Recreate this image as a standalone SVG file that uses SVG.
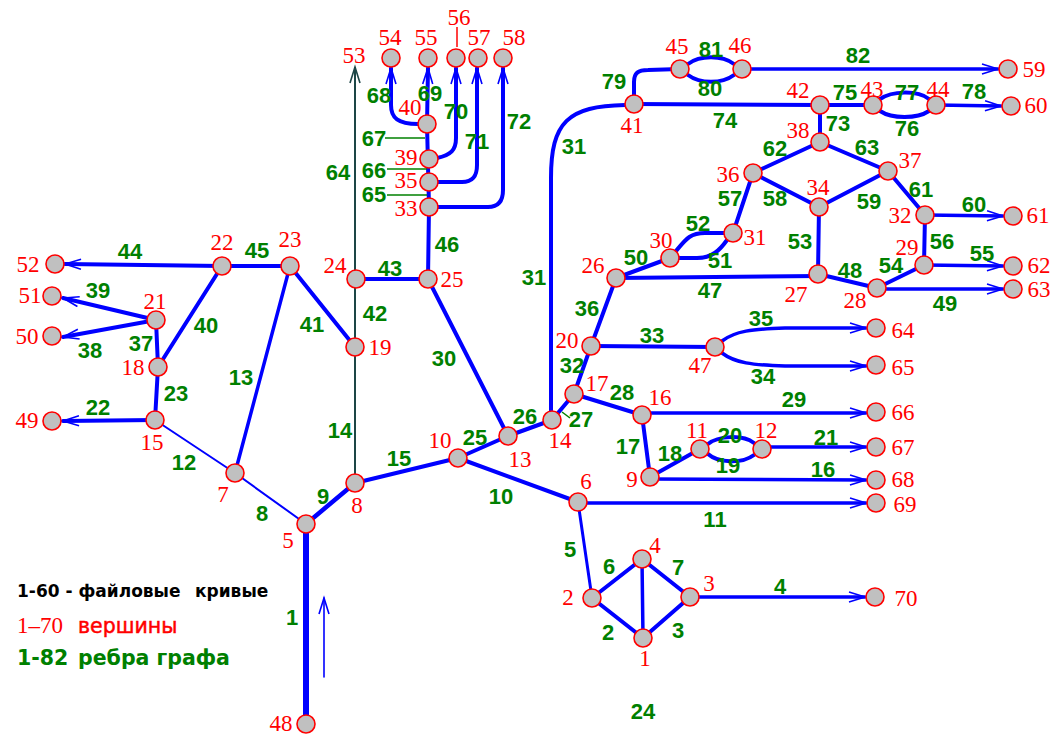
<svg xmlns="http://www.w3.org/2000/svg" width="1053" height="735" viewBox="0 0 1053 735">
<style>
.e{fill:none;stroke:#0000ff;stroke-width:4;stroke-linecap:round;stroke-linejoin:round}
.t{stroke-width:2}
.m{stroke-width:3}
.a{marker-end:url(#ah)}
.ld{fill:none;stroke:#008000;stroke-width:1.5}
.n{fill:#c0c0c0;stroke:#ff0000;stroke-width:1.6}
.vl{font-family:"Liberation Serif",serif;font-size:23px;fill:#ff0000;text-anchor:middle}
.el{font-family:"Liberation Sans",Arial,sans-serif;font-size:22px;font-weight:bold;fill:#008000;text-anchor:middle}
</style>
<defs>
<marker id="ah" markerUnits="userSpaceOnUse" viewBox="0 0 20 12" markerWidth="20" markerHeight="12" refX="17" refY="6" orient="auto"><path d="M1,1 L17,6 L1,11" fill="none" stroke="#0000ff" stroke-width="1.6"/></marker>
<marker id="ahd" markerUnits="userSpaceOnUse" viewBox="0 0 20 12" markerWidth="20" markerHeight="12" refX="17" refY="6" orient="auto"><path d="M1,1 L17,6 L1,11" fill="none" stroke="#1d4646" stroke-width="1.6"/></marker>
</defs>
<rect width="1053" height="735" fill="#ffffff"/>
<g id="connectors">
<path class="e" style="stroke-width:6" d="M306,724 L306,524"/>
<path class="e" d="M592,598 L643,638"/>
<path class="e" d="M643,638 L690,597"/>
<path class="e a" style="stroke-width:3.5" d="M690,597 L865,597"/>
<path class="e m" d="M578,502 L592,598"/>
<path class="e" d="M592,598 L642,559"/>
<path class="e" d="M642,559 L690,597"/>
<path class="e" style="stroke-width:3.5" d="M642,559 L643,638"/>
<path class="e t" d="M306,524 L235,473"/>
<path class="e" style="stroke-width:4.5" d="M306,524 L355,483"/>
<path class="e" d="M458,458 L578,502"/>
<path class="e a" style="stroke-width:3.5" d="M578,503 L866,503"/>
<path class="e t" d="M155,420 L235,473"/>
<path class="e" style="stroke-width:3.5" d="M290,266 L235,473"/>
<path fill="none" stroke="#1d4646" stroke-width="2" marker-end="url(#ahd)" d="M355,483 L355,67"/>
<path class="e" d="M355,483 L458,458"/>
<path class="e a" style="stroke-width:3.5" d="M650,479 L866,480"/>
<path class="e" d="M642,415 L650,477"/>
<path class="e" d="M650,477 L700,449"/>
<path class="e" d="M708,454 C718,463 742,464 754,455"/>
<path class="e" d="M708,444 C718,436 742,434 754,443"/>
<path class="e a" style="stroke-width:3.5" d="M762,447 L866,447"/>
<path class="e a" d="M155,420 L63,421"/>
<path class="e" d="M158,367 L155,420"/>
<path class="e" d="M458,458 L508,436"/>
<path class="e" d="M508,436 L552,420"/>
<path class="e" d="M552,420 L574,394"/>
<path class="e" d="M574,394 L642,415"/>
<path class="e a" style="stroke-width:3.5" d="M642,413 L866,413"/>
<path class="e" d="M428,279 L508,436"/>
<path class="e" d="M551,420 L551,178 C551,122 568,106 625,105"/>
<path class="e" d="M591,346 L574,394"/>
<path class="e" d="M591,346 L715,347"/>
<path class="e a" style="stroke-width:3.5" d="M722,353 C735,363 752,365 785,366 L866,366"/>
<path class="e a" style="stroke-width:3.5" d="M722,341 C735,331 752,329 785,328 L866,328"/>
<path class="e" d="M616,278 L591,346"/>
<path class="e" d="M156,320 L158,367"/>
<path class="e a" d="M156,320 L63,337"/>
<path class="e a" d="M156,320 L63,298"/>
<path class="e" d="M222,266 L158,367"/>
<path class="e" d="M290,266 L355,347"/>
<path class="e" d="M356,279 L428,279"/>
<path class="e a" d="M222,266 L65,264"/>
<path class="e" d="M222,266 L290,266"/>
<path class="e" d="M428,279 L429,207"/>
<path class="e" d="M616,278 L818,276"/>
<path class="e" d="M818,274 L877,288"/>
<path class="e a" style="stroke-width:3.5" d="M877,289 L1003,289"/>
<path class="e" d="M616,278 L670,258"/>
<path class="e" d="M679,258 L697,258 C712,258 720,250 727,240"/>
<path class="e" d="M676,251 C686,239 690,233 705,233 L724,233"/>
<path class="e" d="M819,207 L818,274"/>
<path class="e" d="M877,288 L924,265"/>
<path class="e a" style="stroke-width:3.5" d="M924,265 L1003,266"/>
<path class="e" d="M924,265 L925,215"/>
<path class="e" d="M733,233 L753,173"/>
<path class="e" d="M753,173 L819,207"/>
<path class="e" d="M819,207 L888,171"/>
<path class="e a" style="stroke-width:3.5" d="M925,215 L1003,216"/>
<path class="e" d="M888,171 L925,215"/>
<path class="e" d="M753,173 L820,142"/>
<path class="e" d="M820,142 L888,171"/>
<path class="e" d="M429,207 L427,124"/>
<path class="e a" d="M418,124 C398,124 391,118 391,105 L391,68"/>
<path class="e a" d="M427,124 L428,68"/>
<path class="e a" d="M437,158 C451,155 456,150 456,138 L456,68"/>
<path class="e a" d="M438,182 L462,182 C473,182 477,176 477,165 L477,68"/>
<path class="e a" d="M438,207 L488,207 C499,207 503,200 503,190 L503,68"/>
<path class="e" d="M820,105 L820,142"/>
<path class="e" d="M634,104 L820,105"/>
<path class="e" d="M820,105 L873,105"/>
<path class="e" d="M880,111 C892,119 917,119 929,111"/>
<path class="e" d="M880,99 C892,91 917,90 929,99"/>
<path class="e a" style="stroke-width:3.5" d="M936,105 L1001,106"/>
<path class="e" d="M634,104 L634,82 C634,73 638,70 648,70 L680,69"/>
<path class="e" d="M688,75 C700,84 722,84 734,75"/>
<path class="e" d="M688,64 C700,55 722,55 734,64"/>
<path class="e a" style="stroke-width:3.5" d="M742,69 L998,69"/>
<path class="e a" style="stroke-width:1.6" d="M324,677 L324,598"/>
<path class="ld" d="M387,195 L427,195"/>
<path class="ld" d="M387,169 L427,169"/>
<path class="ld" d="M385,138 L425,138"/>
<path class="ld" d="M562,412 L570,418"/>
<path fill="none" stroke="#ff0000" stroke-width="1.5" d="M457,27 L457,47"/>
</g>
<g id="edge-labels">
<text class="el" x="292" y="625">1</text>
<text class="el" x="608" y="640">2</text>
<text class="el" x="678" y="638">3</text>
<text class="el" x="780" y="594">4</text>
<text class="el" x="570" y="557">5</text>
<text class="el" x="609" y="574">6</text>
<text class="el" x="678" y="575">7</text>
<text class="el" x="262" y="521">8</text>
<text class="el" x="323" y="504">9</text>
<text class="el" x="501" y="504">10</text>
<text class="el" x="715" y="527">11</text>
<text class="el" x="184" y="470">12</text>
<text class="el" x="241" y="385">13</text>
<text class="el" x="340" y="438">14</text>
<text class="el" x="399" y="466">15</text>
<text class="el" x="823" y="477">16</text>
<text class="el" x="628" y="454">17</text>
<text class="el" x="670" y="461">18</text>
<text class="el" x="728" y="473">19</text>
<text class="el" x="730" y="443">20</text>
<text class="el" x="826" y="445">21</text>
<text class="el" x="98" y="415">22</text>
<text class="el" x="176" y="401">23</text>
<text class="el" x="643" y="719">24</text>
<text class="el" x="475" y="445">25</text>
<text class="el" x="525" y="424">26</text>
<text class="el" x="581" y="427">27</text>
<text class="el" x="622" y="400">28</text>
<text class="el" x="794" y="407">29</text>
<text class="el" x="444" y="366">30</text>
<text class="el" x="534" y="285">31</text>
<text class="el" x="574" y="154">31</text>
<text class="el" x="572" y="373">32</text>
<text class="el" x="652" y="343">33</text>
<text class="el" x="763" y="384">34</text>
<text class="el" x="761" y="326">35</text>
<text class="el" x="587" y="316">36</text>
<text class="el" x="141" y="351">37</text>
<text class="el" x="90" y="358">38</text>
<text class="el" x="98" y="298">39</text>
<text class="el" x="206" y="333">40</text>
<text class="el" x="312" y="332">41</text>
<text class="el" x="375" y="321">42</text>
<text class="el" x="390" y="276">43</text>
<text class="el" x="130" y="259">44</text>
<text class="el" x="257" y="258">45</text>
<text class="el" x="447" y="252">46</text>
<text class="el" x="710" y="298">47</text>
<text class="el" x="850" y="278">48</text>
<text class="el" x="945" y="311">49</text>
<text class="el" x="636" y="265">50</text>
<text class="el" x="720" y="268">51</text>
<text class="el" x="698" y="231">52</text>
<text class="el" x="800" y="249">53</text>
<text class="el" x="891" y="273">54</text>
<text class="el" x="982" y="261">55</text>
<text class="el" x="942" y="249">56</text>
<text class="el" x="730" y="206">57</text>
<text class="el" x="775" y="206">58</text>
<text class="el" x="869" y="209">59</text>
<text class="el" x="974" y="212">60</text>
<text class="el" x="921" y="197">61</text>
<text class="el" x="775" y="156">62</text>
<text class="el" x="867" y="155">63</text>
<text class="el" x="338" y="180">64</text>
<text class="el" x="374" y="202">65</text>
<text class="el" x="374" y="178">66</text>
<text class="el" x="374" y="146">67</text>
<text class="el" x="379" y="103">68</text>
<text class="el" x="430" y="101">69</text>
<text class="el" x="456" y="119">70</text>
<text class="el" x="477" y="149">71</text>
<text class="el" x="519" y="129">72</text>
<text class="el" x="838" y="131">73</text>
<text class="el" x="725" y="128">74</text>
<text class="el" x="845" y="100">75</text>
<text class="el" x="907" y="136">76</text>
<text class="el" x="907" y="100">77</text>
<text class="el" x="974" y="99">78</text>
<text class="el" x="614" y="89">79</text>
<text class="el" x="710" y="96">80</text>
<text class="el" x="711" y="57">81</text>
<text class="el" x="858" y="63">82</text>
</g>
<g id="node-1"><circle class="n" cx="643" cy="638" r="9"/><text class="vl" x="645" y="666">1</text></g>
<g id="node-2"><circle class="n" cx="592" cy="598" r="9"/><text class="vl" x="568" y="605">2</text></g>
<g id="node-3"><circle class="n" cx="690" cy="597" r="9"/><text class="vl" x="709" y="591">3</text></g>
<g id="node-4"><circle class="n" cx="642" cy="559" r="9"/><text class="vl" x="655" y="553">4</text></g>
<g id="node-5"><circle class="n" cx="306" cy="524" r="9"/><text class="vl" x="288" y="548">5</text></g>
<g id="node-6"><circle class="n" cx="578" cy="502" r="9"/><text class="vl" x="586" y="489">6</text></g>
<g id="node-7"><circle class="n" cx="235" cy="473" r="9"/><text class="vl" x="223" y="502">7</text></g>
<g id="node-8"><circle class="n" cx="355" cy="483" r="9"/><text class="vl" x="357" y="513">8</text></g>
<g id="node-9"><circle class="n" cx="650" cy="477" r="9"/><text class="vl" x="632" y="487">9</text></g>
<g id="node-10"><circle class="n" cx="458" cy="458" r="9"/><text class="vl" x="440" y="448">10</text></g>
<g id="node-11"><circle class="n" cx="700" cy="449" r="9"/><text class="vl" x="697" y="438">11</text></g>
<g id="node-12"><circle class="n" cx="762" cy="449" r="9"/><text class="vl" x="766" y="438">12</text></g>
<g id="node-13"><circle class="n" cx="508" cy="436" r="9"/><text class="vl" x="520" y="467">13</text></g>
<g id="node-14"><circle class="n" cx="552" cy="420" r="9"/><text class="vl" x="560" y="448">14</text></g>
<g id="node-15"><circle class="n" cx="155" cy="420" r="9"/><text class="vl" x="152" y="450">15</text></g>
<g id="node-16"><circle class="n" cx="642" cy="415" r="9"/><text class="vl" x="660" y="405">16</text></g>
<g id="node-17"><circle class="n" cx="574" cy="394" r="9"/><text class="vl" x="597" y="391">17</text></g>
<g id="node-18"><circle class="n" cx="158" cy="367" r="9"/><text class="vl" x="133" y="375">18</text></g>
<g id="node-19"><circle class="n" cx="355" cy="347" r="9"/><text class="vl" x="380" y="355">19</text></g>
<g id="node-20"><circle class="n" cx="591" cy="346" r="9"/><text class="vl" x="567" y="348">20</text></g>
<g id="node-21"><circle class="n" cx="156" cy="320" r="9"/><text class="vl" x="155" y="309">21</text></g>
<g id="node-22"><circle class="n" cx="222" cy="266" r="9"/><text class="vl" x="222" y="250">22</text></g>
<g id="node-23"><circle class="n" cx="290" cy="266" r="9"/><text class="vl" x="290" y="247">23</text></g>
<g id="node-24"><circle class="n" cx="356" cy="279" r="9"/><text class="vl" x="335" y="273">24</text></g>
<g id="node-25"><circle class="n" cx="428" cy="279" r="9"/><text class="vl" x="452" y="287">25</text></g>
<g id="node-26"><circle class="n" cx="616" cy="278" r="9"/><text class="vl" x="593" y="273">26</text></g>
<g id="node-27"><circle class="n" cx="818" cy="274" r="9"/><text class="vl" x="796" y="302">27</text></g>
<g id="node-28"><circle class="n" cx="877" cy="288" r="9"/><text class="vl" x="855" y="308">28</text></g>
<g id="node-29"><circle class="n" cx="924" cy="265" r="9"/><text class="vl" x="907" y="255">29</text></g>
<g id="node-30"><circle class="n" cx="670" cy="258" r="9"/><text class="vl" x="661" y="248">30</text></g>
<g id="node-31"><circle class="n" cx="733" cy="233" r="9"/><text class="vl" x="755" y="245">31</text></g>
<g id="node-32"><circle class="n" cx="925" cy="215" r="9"/><text class="vl" x="900" y="223">32</text></g>
<g id="node-33"><circle class="n" cx="429" cy="207" r="9"/><text class="vl" x="406" y="216">33</text></g>
<g id="node-34"><circle class="n" cx="819" cy="207" r="9"/><text class="vl" x="818" y="195">34</text></g>
<g id="node-35"><circle class="n" cx="429" cy="182" r="9"/><text class="vl" x="406" y="188">35</text></g>
<g id="node-36"><circle class="n" cx="753" cy="173" r="9"/><text class="vl" x="728" y="182">36</text></g>
<g id="node-37"><circle class="n" cx="888" cy="171" r="9"/><text class="vl" x="910" y="168">37</text></g>
<g id="node-38"><circle class="n" cx="820" cy="142" r="9"/><text class="vl" x="798" y="138">38</text></g>
<g id="node-39"><circle class="n" cx="429" cy="159" r="9"/><text class="vl" x="406" y="165">39</text></g>
<g id="node-40"><circle class="n" cx="427" cy="124" r="9"/><text class="vl" x="410" y="115">40</text></g>
<g id="node-41"><circle class="n" cx="634" cy="104" r="9"/><text class="vl" x="632" y="133">41</text></g>
<g id="node-42"><circle class="n" cx="820" cy="105" r="9"/><text class="vl" x="798" y="98">42</text></g>
<g id="node-43"><circle class="n" cx="873" cy="105" r="9"/><text class="vl" x="872" y="97">43</text></g>
<g id="node-44"><circle class="n" cx="936" cy="105" r="9"/><text class="vl" x="938" y="97">44</text></g>
<g id="node-45"><circle class="n" cx="680" cy="69" r="9"/><text class="vl" x="677" y="54">45</text></g>
<g id="node-46"><circle class="n" cx="742" cy="69" r="9"/><text class="vl" x="740" y="53">46</text></g>
<g id="node-47"><circle class="n" cx="715" cy="347" r="9"/><text class="vl" x="700" y="373">47</text></g>
<g id="node-48"><circle class="n" cx="306" cy="724" r="9"/><text class="vl" x="281" y="731">48</text></g>
<g id="node-49"><circle class="n" cx="52" cy="421" r="9"/><text class="vl" x="27" y="428">49</text></g>
<g id="node-50"><circle class="n" cx="52" cy="336" r="9"/><text class="vl" x="27" y="344">50</text></g>
<g id="node-51"><circle class="n" cx="52" cy="296" r="9"/><text class="vl" x="30" y="303">51</text></g>
<g id="node-52"><circle class="n" cx="55" cy="264" r="9"/><text class="vl" x="28" y="272">52</text></g>
<g id="node-53"><text class="vl" x="354" y="63">53</text></g>
<g id="node-54"><circle class="n" cx="391" cy="58" r="9"/><text class="vl" x="390" y="45">54</text></g>
<g id="node-55"><circle class="n" cx="428" cy="58" r="9"/><text class="vl" x="426" y="45">55</text></g>
<g id="node-56"><circle class="n" cx="456" cy="58" r="9"/><text class="vl" x="459" y="25">56</text></g>
<g id="node-57"><circle class="n" cx="478" cy="58" r="9"/><text class="vl" x="479" y="45">57</text></g>
<g id="node-58"><circle class="n" cx="503" cy="58" r="9"/><text class="vl" x="514" y="45">58</text></g>
<g id="node-59"><circle class="n" cx="1008" cy="69" r="9"/><text class="vl" x="1034" y="77">59</text></g>
<g id="node-60"><circle class="n" cx="1011" cy="106" r="9"/><text class="vl" x="1036" y="113">60</text></g>
<g id="node-61"><circle class="n" cx="1013" cy="216" r="9"/><text class="vl" x="1038" y="223">61</text></g>
<g id="node-62"><circle class="n" cx="1013" cy="266" r="9"/><text class="vl" x="1039" y="273">62</text></g>
<g id="node-63"><circle class="n" cx="1013" cy="289" r="9"/><text class="vl" x="1039" y="297">63</text></g>
<g id="node-64"><circle class="n" cx="876" cy="328" r="9"/><text class="vl" x="903" y="338">64</text></g>
<g id="node-65"><circle class="n" cx="876" cy="365" r="9"/><text class="vl" x="903" y="375">65</text></g>
<g id="node-66"><circle class="n" cx="876" cy="412" r="9"/><text class="vl" x="903" y="420">66</text></g>
<g id="node-67"><circle class="n" cx="876" cy="447" r="9"/><text class="vl" x="903" y="455">67</text></g>
<g id="node-68"><circle class="n" cx="876" cy="480" r="9"/><text class="vl" x="903" y="487">68</text></g>
<g id="node-69"><circle class="n" cx="876" cy="503" r="9"/><text class="vl" x="905" y="512">69</text></g>
<g id="node-70"><circle class="n" cx="875" cy="597" r="9"/><text class="vl" x="906" y="606">70</text></g>
<g id="legend">
<text x="17" y="597" font-family="DejaVu Sans,sans-serif" font-size="17" font-weight="bold" fill="#000000">1-60 - файловые</text>
<text x="195" y="597" font-family="DejaVu Sans,sans-serif" font-size="17" font-weight="bold" fill="#000000">кривые</text>
<text x="17" y="633" font-family="Liberation Serif,serif" font-size="23" fill="#ff0000">1–70</text>
<text x="78" y="633" font-family="DejaVu Sans,sans-serif" font-size="20.5" fill="#ff0000" stroke="#ff0000" stroke-width="0.5">вершины</text>
<text x="17" y="665" font-family="DejaVu Sans,sans-serif" font-size="20.5" font-weight="bold" fill="#008000">1-82</text>
<text x="78" y="665" font-family="DejaVu Sans,sans-serif" font-size="20.5" font-weight="bold" fill="#008000">ребра графа</text>
</g>
</svg>
